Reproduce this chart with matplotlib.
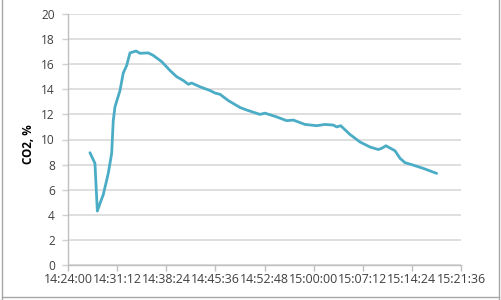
import datetime as dt

import matplotlib
matplotlib.use('Agg')
from matplotlib import pyplot as plt
from matplotlib.lines import Line2D
import matplotlib.dates as mdates

times = ['14:27:13', '14:27:57', '14:28:18', '14:28:41', '14:29:10', '14:29:54',
         '14:30:24', '14:30:38', '14:30:53', '14:31:37', '14:32:06', '14:32:36',
         '14:33:05', '14:33:58', '14:34:33', '14:35:46', '14:36:30', '14:37:44',
         '14:38:57', '14:39:56', '14:40:54', '14:41:38', '14:42:08', '14:43:21',
         '14:44:49', '14:45:33', '14:46:17', '14:47:30', '14:49:13', '14:50:11',
         '14:52:08', '14:52:52', '14:54:35', '14:56:03', '14:57:01', '14:58:44',
         '15:00:27', '15:01:40', '15:02:53', '15:03:23', '15:03:58', '15:05:20',
         '15:06:48', '15:08:16', '15:09:29', '15:09:59', '15:10:36', '15:11:56',
         '15:12:40', '15:13:24', '15:14:22', '15:16:04', '15:18:02']
co2 = [8.95, 8.1, 4.3, 4.9, 5.6, 7.3,
       8.9, 11.5, 12.6, 13.9, 15.3, 15.9,
       16.9, 17.05, 16.87, 16.9, 16.7, 16.2,
       15.5, 15.0, 14.7, 14.4, 14.5, 14.2,
       13.9, 13.7, 13.6, 13.1, 12.55, 12.35,
       12.0, 12.1, 11.8, 11.5, 11.55, 11.2,
       11.1, 11.2, 11.15, 11.0, 11.1, 10.4,
       9.8, 9.4, 9.2, 9.3, 9.5, 9.1,
       8.5, 8.15, 8.0, 7.7, 7.3]
tick_labels = ['14:24:00', '14:31:12', '14:38:24', '14:45:36', '14:52:48',
               '15:00:00', '15:07:12', '15:14:24', '15:21:36']

day = dt.date(2000, 1, 1)


def to_dt(s):
  return dt.datetime.combine(day, dt.datetime.strptime(s, '%H:%M:%S').time())


x = [to_dt(t) for t in times]
ticks = [to_dt(t) for t in tick_labels]

plt.rcParams['font.family'] = ['Open Sans', 'DejaVu Sans']

fig = plt.figure(figsize=(5.01, 3.0), dpi=100)
ax = fig.add_axes([68 / 501, 35 / 300, 393 / 501, 251 / 300])

ax.plot(x, co2, color='#4bacc6', lw=2.0, solid_capstyle='round',
        solid_joinstyle='round')

ax.set_ylim(0, 20)
ax.set_yticks(range(0, 21, 2))
ax.set_xlim(ticks[0], ticks[-1])
ax.set_xticks(ticks)
ax.xaxis.set_major_formatter(mdates.DateFormatter('%H:%M:%S'))

ax.grid(axis='y', color='#d9d9d9', lw=1.2)
ax.set_axisbelow(True)
for side in ['top', 'right']:
  ax.spines[side].set_visible(False)
for side in ['left', 'bottom']:
  ax.spines[side].set_color('#bfbfbf')
  ax.spines[side].set_linewidth(1.0)

ax.tick_params(axis='y', length=4.5, width=1.0, color='#d0d0d0', pad=5,
               labelsize=8.6, labelcolor='#404040')
ax.tick_params(axis='x', length=4, width=1.0, color='#bfbfbf', pad=2,
               labelsize=8.9, labelcolor='#404040')

ax.set_ylabel('CO2, %', fontsize=8.4, fontweight='bold', color='#000000')
ax.yaxis.set_label_coords(-0.085, 0.48)

# outer chart frame
for xs, ys in [([2 / 501, 2 / 501], [0, 1]),
               ([499 / 501, 499 / 501], [0, 1]),
               ([2 / 501, 499 / 501], [3 / 300, 3 / 300])]:
  fig.add_artist(Line2D(xs, ys, color='#a6a6a6', lw=1.0,
                        transform=fig.transFigure))

fig.savefig('out.png', dpi=100)
